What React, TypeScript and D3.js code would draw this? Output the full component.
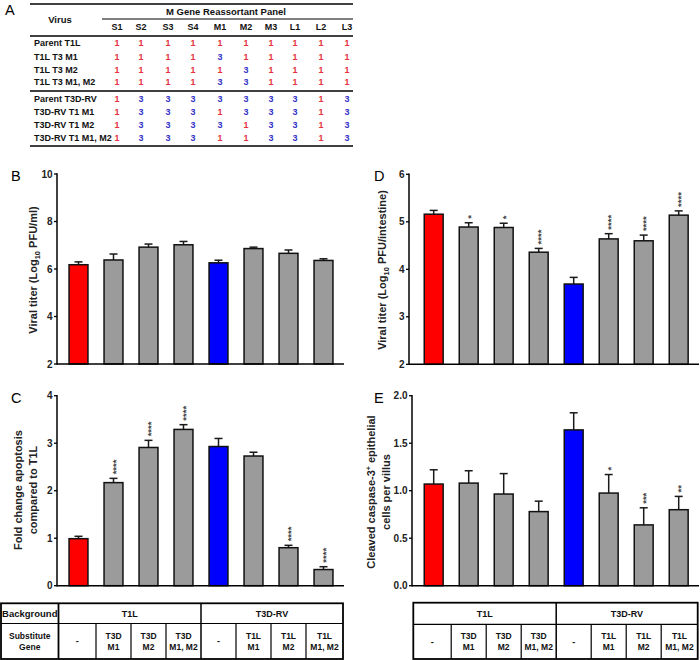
import React from "react";
import * as d3 from "d3";

const FONT = "'Liberation Sans', Arial, Helvetica, sans-serif";

// ---- Panel A table data ----
const geneSegments = ["S1", "S2", "S3", "S4", "M1", "M2", "M3", "L1", "L2", "L3"];
const virusNames = [
  "Parent T1L",
  "T1L T3 M1",
  "T1L T3 M2",
  "T1L T3 M1, M2",
  "Parent T3D-RV",
  "T3D-RV T1 M1",
  "T3D-RV T1 M2",
  "T3D-RV T1 M1, M2",
];
const genotypes = [
  [1, 1, 1, 1, 1, 1, 1, 1, 1, 1],
  [1, 1, 1, 1, 3, 1, 1, 1, 1, 1],
  [1, 1, 1, 1, 1, 3, 1, 1, 1, 1],
  [1, 1, 1, 1, 3, 3, 1, 1, 1, 1],
  [1, 3, 3, 3, 3, 3, 3, 3, 1, 3],
  [1, 3, 3, 3, 1, 3, 3, 3, 1, 3],
  [1, 3, 3, 3, 3, 1, 3, 3, 1, 3],
  [1, 3, 3, 3, 1, 1, 3, 3, 1, 3],
];

// ---- Bar data ----
const barColors = ["red", "gray", "gray", "gray", "blue", "gray", "gray", "gray"];

const titerB = [6.18, 6.38, 6.92, 7.02, 6.26, 6.86, 6.66, 6.36];
const titerBErr = [0.12, 0.25, 0.13, 0.14, 0.11, 0.06, 0.14, 0.07];
const titerBStars = ["", "", "", "", "", "", "", ""];
const ticksB = [2, 4, 6, 8, 10];

const apoptosisC = [0.99, 2.17, 2.91, 3.29, 2.93, 2.73, 0.8, 0.34];
const apoptosisCErr = [0.05, 0.09, 0.15, 0.1, 0.17, 0.08, 0.05, 0.06];
const apoptosisCStars = ["", "****", "****", "****", "", "", "****", "****"];
const ticksC = [0, 1, 2, 3, 4];

const titerD = [5.16, 4.89, 4.88, 4.36, 3.69, 4.64, 4.6, 5.14];
const titerDErr = [0.08, 0.09, 0.09, 0.08, 0.14, 0.11, 0.12, 0.09];
const titerDStars = ["", "*", "*", "****", "", "****", "****", "****"];
const ticksD = [2, 3, 4, 5, 6];

const caspaseE = [1.07, 1.08, 0.965, 0.78, 1.64, 0.975, 0.64, 0.8];
const caspaseEErr = [0.15, 0.13, 0.215, 0.11, 0.18, 0.195, 0.18, 0.14];
const caspaseEStars = ["", "", "", "", "", "*", "***", "**"];
const ticksE = [0, 0.5, 1, 1.5, 2];

// ---- Bottom table data ----
const backgrounds = ["T1L", "T3D-RV"];
const substituteGenes = [
  ["-"],
  ["T3D", "M1"],
  ["T3D", "M2"],
  ["T3D", "M1, M2"],
  ["-"],
  ["T1L", "M1"],
  ["T1L", "M2"],
  ["T1L", "M1, M2"],
];

const colorMap: Record<string, string> = { red: "#ff0000", gray: "#9b9b9b", blue: "#0000ff" };
const valueColor: Record<number, string> = { 1: "#e6323e", 3: "#3232c8" };

function makeBand(start: number) {
  return d3
    .scaleBand<number>()
    .domain(d3.range(8))
    .range([start, start + 280])
    .paddingInner(0.46)
    .paddingOuter(0.23);
}

type PanelProps = {
  axisX: number;
  bandStart: number;
  axisEnd: number;
  domain: [number, number];
  range: [number, number];
  values: number[];
  errors: number[];
  stars: string[];
  ticks: number[];
  fmt: (v: number) => string;
};

function BarPanel(p: PanelProps) {
  const x = makeBand(p.bandStart);
  const y = d3.scaleLinear().domain(p.domain).range(p.range);
  const y0 = y(p.domain[0]);
  const bw = x.bandwidth();
  const sfs = 9.5;
  return (
    <g>
      {p.values.map((v, i) => {
        const bx = x(i)!;
        const cx = bx + bw / 2;
        const top = y(v);
        const et = y(v + p.errors[i]);
        return (
          <g key={i}>
            <line x1={cx} x2={cx} y1={top} y2={et} stroke="#1a1a1a" strokeWidth={1.5} />
            <line x1={cx - 4} x2={cx + 4} y1={et} y2={et} stroke="#1a1a1a" strokeWidth={1.5} />
            <rect
              x={bx}
              y={top}
              width={bw}
              height={y0 - top}
              fill={colorMap[barColors[i]]}
              stroke="#111"
              strokeWidth={1.5}
            />
            {p.stars[i] ? (
              <text
                transform={`translate(${cx + 0.57 * sfs},${et - 4}) rotate(-90)`}
                fontSize={sfs}
                fontWeight="bold"
                fontFamily={FONT}
                fill="#444"
              >
                {p.stars[i]}
              </text>
            ) : null}
          </g>
        );
      })}
      <line x1={p.axisX} x2={p.axisX} y1={y(p.domain[1]) - 0.75} y2={y0 + 0.75} stroke="#000" strokeWidth={1.5} />
      <line x1={p.axisX} x2={p.axisEnd} y1={y0} y2={y0} stroke="#000" strokeWidth={1.5} />
      {p.ticks.map((t) => (
        <g key={t}>
          <line x1={p.axisX - 3} x2={p.axisX} y1={y(t)} y2={y(t)} stroke="#000" strokeWidth={1.3} />
          <text
            x={p.axisX - 4.5}
            y={y(t)}
            dy="0.35em"
            textAnchor="end"
            fontSize={10}
            fontWeight="bold"
            fontFamily={FONT}
            fill="#222"
          >
            {p.fmt(t)}
          </text>
        </g>
      ))}
    </g>
  );
}

function PanelLetter({ x, y, t }: { x: number; y: number; t: string }) {
  return (
    <text x={x} y={y} fontSize={14.5} fontFamily={FONT} fill="#000">
      {t}
    </text>
  );
}

function TableA() {
  const colX = [117, 141, 168, 193, 220, 246, 271, 295, 321, 347];
  const rowY = [43, 56.5, 69.5, 82, 99, 112, 125, 138];
  const L = 30;
  const R = 353;
  return (
    <g fontFamily={FONT} fontWeight="bold">
      <line x1={L} x2={R} y1={4} y2={4} stroke="#000" strokeWidth={1.6} />
      <line x1={102} x2={R} y1={19} y2={19} stroke="#000" strokeWidth={1.2} />
      <line x1={L} x2={R} y1={36} y2={36} stroke="#000" strokeWidth={1.6} />
      <line x1={L} x2={R} y1={91} y2={91} stroke="#000" strokeWidth={1.6} />
      <line x1={L} x2={R} y1={146} y2={146} stroke="#000" strokeWidth={1.6} />
      <text x={60} y={20} dy="0.35em" textAnchor="middle" fontSize={9.5} fill="#111">
        Virus
      </text>
      <text x={226} y={12} dy="0.35em" textAnchor="middle" fontSize={9.5} fill="#111">
        M Gene Reassortant Panel
      </text>
      {geneSegments.map((g, j) => (
        <text key={g} x={colX[j]} y={26.5} dy="0.35em" textAnchor="middle" fontSize={9} fill="#111">
          {g}
        </text>
      ))}
      {virusNames.map((v, i) => (
        <g key={v}>
          <text x={34} y={rowY[i]} dy="0.35em" fontSize={9} fill="#111">
            {v}
          </text>
          {genotypes[i].map((g, j) => (
            <text
              key={j}
              x={colX[j]}
              y={rowY[i]}
              dy="0.35em"
              textAnchor="middle"
              fontSize={9}
              fill={valueColor[g]}
            >
              {g}
            </text>
          ))}
        </g>
      ))}
    </g>
  );
}

function BottomTable({
  left,
  labelCol,
  bandStart,
  right,
  top,
  mid,
}: {
  left: number;
  labelCol: boolean;
  bandStart: number;
  right: number;
  top: number;
  mid: number;
}) {
  const x = makeBand(bandStart);
  const step = x.step();
  const centers = d3.range(8).map((i) => x(i)! + x.bandwidth() / 2);
  const edges = [centers[0] - step / 2, ...centers.map((c) => c + step / 2)];
  const firstEdge = labelCol ? edges[0] - 2.5 : left;
  edges[0] = firstEdge;
  edges[8] = right;
  const bottom = 659;
  const lowC = (mid + bottom) / 2;
  const topC = (top + mid) / 2;
  return (
    <g fontFamily={FONT} fontWeight="bold" fill="#111">
      <rect x={left} y={top} width={right - left} height={bottom - top} fill="none" stroke="#000" strokeWidth={1.8} />
      <line x1={labelCol ? left : firstEdge} x2={right} y1={mid} y2={mid} stroke="#000" strokeWidth={1.2} />
      {labelCol ? (
        <line x1={firstEdge} x2={firstEdge} y1={top} y2={bottom} stroke="#000" strokeWidth={1.8} />
      ) : null}
      <line x1={edges[4]} x2={edges[4]} y1={top} y2={bottom} stroke="#000" strokeWidth={1.5} />
      {edges.slice(1, 8).map((e, i) =>
        i === 3 ? null : <line key={i} x1={e} x2={e} y1={mid} y2={bottom} stroke="#000" strokeWidth={1.2} />
      )}
      {labelCol ? (
        <g>
          <text x={(left + firstEdge) / 2} y={topC} dy="0.35em" textAnchor="middle" fontSize={9.5}>
            Background
          </text>
          <text x={(left + firstEdge) / 2} y={lowC - 5} dy="0.35em" textAnchor="middle" fontSize={8.5}>
            Substitute
          </text>
          <text x={(left + firstEdge) / 2} y={lowC + 6} dy="0.35em" textAnchor="middle" fontSize={8.5}>
            Gene
          </text>
        </g>
      ) : null}
      {backgrounds.map((b, k) => (
        <text
          key={b}
          x={(edges[k * 4] + edges[k * 4 + 4]) / 2}
          y={topC}
          dy="0.35em"
          textAnchor="middle"
          fontSize={9}
        >
          {b}
        </text>
      ))}
      {substituteGenes.map((s, i) => {
        const cx = (edges[i] + edges[i + 1]) / 2;
        if (s.length === 1)
          return (
            <text key={i} x={cx} y={lowC} dy="0.35em" textAnchor="middle" fontSize={9}>
              {s[0]}
            </text>
          );
        return (
          <g key={i}>
            <text x={cx} y={lowC - 5.5} dy="0.35em" textAnchor="middle" fontSize={8.5}>
              {s[0]}
            </text>
            <text x={cx} y={lowC + 5.5} dy="0.35em" textAnchor="middle" fontSize={8.5}>
              {s[1]}
            </text>
          </g>
        );
      })}
    </g>
  );
}

function YLabel({ x, y, children }: { x: number; y: number; children: React.ReactNode }) {
  return (
    <text
      transform={`translate(${x},${y}) rotate(-90)`}
      textAnchor="middle"
      dy="0.35em"
      fontSize={11}
      fontWeight="bold"
      fontFamily={FONT}
      fill="#222"
    >
      {children}
    </text>
  );
}

export default function App() {
  const fInt = d3.format("d");
  const f1 = d3.format(".1f");
  return (
    <svg
      width={700}
      height={660}
      style={{ position: "absolute", left: 0, top: 0, background: "#fff" }}
    >
      <PanelLetter x={5} y={15} t="A" />
      <TableA />

      {/* Panel B */}
      <PanelLetter x={11} y={181} t="B" />
      <YLabel x={33} y={270}>
        Viral titer (Log
        <tspan fontSize={7.5} dy="3">10</tspan>
        <tspan dy="-3"> PFU/ml)</tspan>
      </YLabel>
      <BarPanel
        axisX={57}
        bandStart={61}
        axisEnd={344}
        domain={[2, 10]}
        range={[364, 174]}
        values={titerB}
        errors={titerBErr}
        stars={titerBStars}
        ticks={ticksB}
        fmt={fInt}
      />

      {/* Panel C */}
      <PanelLetter x={11} y={403} t="C" />
      <YLabel x={18} y={490}>Fold change apoptosis</YLabel>
      <YLabel x={33} y={490}>compared to T1L</YLabel>
      <BarPanel
        axisX={57}
        bandStart={61}
        axisEnd={344}
        domain={[0, 4]}
        range={[585.7, 395.7]}
        values={apoptosisC}
        errors={apoptosisCErr}
        stars={apoptosisCStars}
        ticks={ticksC}
        fmt={fInt}
      />

      {/* Panel D */}
      <PanelLetter x={374} y={181} t="D" />
      <YLabel x={382} y={270}>
        Viral titer (Log
        <tspan fontSize={7.5} dy="3">10</tspan>
        <tspan dy="-3"> PFU/intestine)</tspan>
      </YLabel>
      <BarPanel
        axisX={409}
        bandStart={416.2}
        axisEnd={699}
        domain={[2, 6]}
        range={[364.3, 174.3]}
        values={titerD}
        errors={titerDErr}
        stars={titerDStars}
        ticks={ticksD}
        fmt={fInt}
      />

      {/* Panel E */}
      <PanelLetter x={374} y={403} t="E" />
      <YLabel x={371} y={492}>
        Cleaved caspase-3
        <tspan fontSize={7} dy="-4">+</tspan>
        <tspan dy="4"> epithelial</tspan>
      </YLabel>
      <YLabel x={386} y={492}>cells per villus</YLabel>
      <BarPanel
        axisX={412}
        bandStart={416.2}
        axisEnd={699}
        domain={[0, 2]}
        range={[585.7, 395.7]}
        values={caspaseE}
        errors={caspaseEErr}
        stars={caspaseEStars}
        ticks={ticksE}
        fmt={f1}
      />

      <BottomTable left={1} labelCol={true} bandStart={61} right={343} top={603.3} mid={623.5} />
      <BottomTable left={413.3} labelCol={false} bandStart={416.2} right={697.7} top={602.7} mid={624.3} />
    </svg>
  );
}
